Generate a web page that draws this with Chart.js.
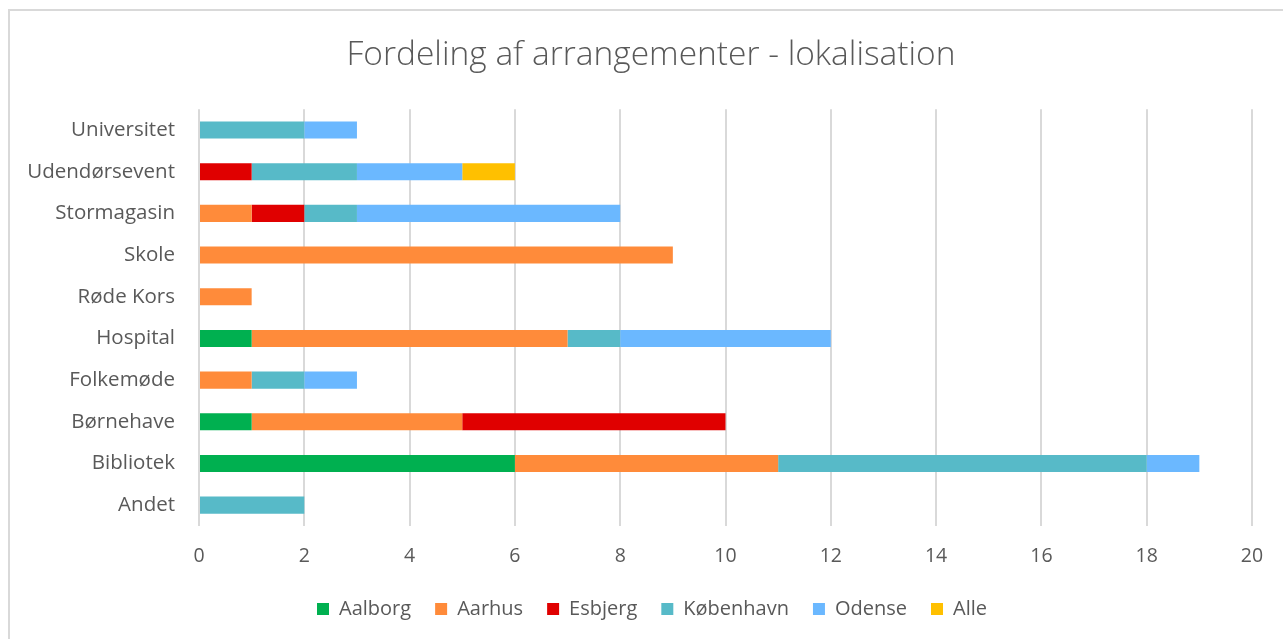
<!DOCTYPE html>
<html>
<head>
<meta charset="utf-8">
<script src="https://cdn.jsdelivr.net/npm/chart.js@4/dist/chart.umd.min.js"></script>
<style>
  html, body { margin: 0; padding: 0; background: #fff; overflow: hidden; }
  #wrap { position: relative; width: 1283px; height: 639px; }
</style>
</head>
<body>
<div id="wrap"><canvas id="c" width="1283" height="639"></canvas></div>
<script>
const categories = ["Universitet", "Udendørsevent", "Stormagasin", "Skole", "Røde Kors", "Hospital", "Folkemøde", "Børnehave", "Bibliotek", "Andet"];
const aalborg   = [0, 0, 0, 0, 0, 1, 0, 1, 6, 0];
const aarhus    = [0, 0, 1, 9, 1, 6, 1, 4, 5, 0];
const esbjerg   = [0, 1, 1, 0, 0, 0, 0, 5, 0, 0];
const koebenhavn= [2, 2, 1, 0, 0, 1, 1, 0, 7, 2];
const odense    = [1, 2, 5, 0, 0, 4, 1, 0, 1, 0];
const alle      = [0, 1, 0, 0, 0, 0, 0, 0, 0, 0];
const seriesNames = ["Aalborg", "Aarhus", "Esbjerg", "København", "Odense", "Alle"];
const seriesColors = ["#00B050", "#FF8B3A", "#E00000", "#57BAC8", "#6BB8FF", "#FFC000"];
const seriesValues = [aalborg, aarhus, esbjerg, koebenhavn, odense, alle];
const xTicks = { min: 0, max: 20, step: 2 };

const FONT = "'Open Sans', 'Noto Sans', sans-serif";
const TEXT = "#595959";

const borderPlugin = {
  id: 'frame',
  beforeDraw(chart) {
    const ctx = chart.ctx;
    ctx.save();
    ctx.strokeStyle = '#d9d9d9';
    ctx.lineWidth = 2;
    ctx.beginPath();
    ctx.moveTo(9, 639);
    ctx.lineTo(9, 10);
    ctx.lineTo(1283, 10);
    ctx.stroke();
    ctx.restore();
  }
};

// Center title and legend on the (wider) chart frame, as in the reference
const centerShift = {
  id: 'centerShift',
  afterLayout(chart) {
    if (chart.titleBlock) { chart.titleBlock.left += 25; chart.titleBlock.right += 25; }
    if (chart.legend) { chart.legend.left += 26; chart.legend.right += 26; }
  }
};

new Chart(document.getElementById('c'), {
  type: 'bar',
  data: {
    labels: categories,
    datasets: seriesNames.map((n, i) => ({
      label: n,
      data: seriesValues[i],
      backgroundColor: seriesColors[i],
      borderWidth: 0,
      barPercentage: 0.41,
      categoryPercentage: 1.0
    }))
  },
  options: {
    indexAxis: 'y',
    responsive: false,
    animation: false,
    layout: { padding: { left: 0, right: 31, top: 0, bottom: 10 } },
    plugins: {
      title: {
        display: true,
        text: 'Fordeling af arrangementer - lokalisation',
        color: TEXT,
        font: { family: FONT, size: 33.5, weight: '300', lineHeight: 1.2 },
        padding: { top: 35, bottom: 34 }
      },
      legend: {
        position: 'bottom',
        labels: {
          color: TEXT,
          font: { family: FONT, size: 20 },
          boxWidth: 12,
          boxHeight: 12,
          padding: 24
        }
      },
      tooltip: { enabled: false }
    },
    scales: {
      x: {
        stacked: true,
        min: xTicks.min,
        max: xTicks.max,
        ticks: { stepSize: xTicks.step, color: TEXT, font: { family: FONT, size: 19.5 }, padding: 19 },
        grid: { color: '#d9d9d9', lineWidth: 2, drawTicks: false },
        border: { display: false },
        afterFit(scale) { scale.height = 49; }
      },
      y: {
        stacked: true,
        ticks: { color: TEXT, font: { family: FONT, size: 20.5 }, padding: 24 },
        grid: { display: false, drawTicks: false },
        border: { display: false },
        afterFit(scale) { scale.width = 199; }
      }
    }
  },
  plugins: [borderPlugin, centerShift]
});
</script>
</body>
</html>
